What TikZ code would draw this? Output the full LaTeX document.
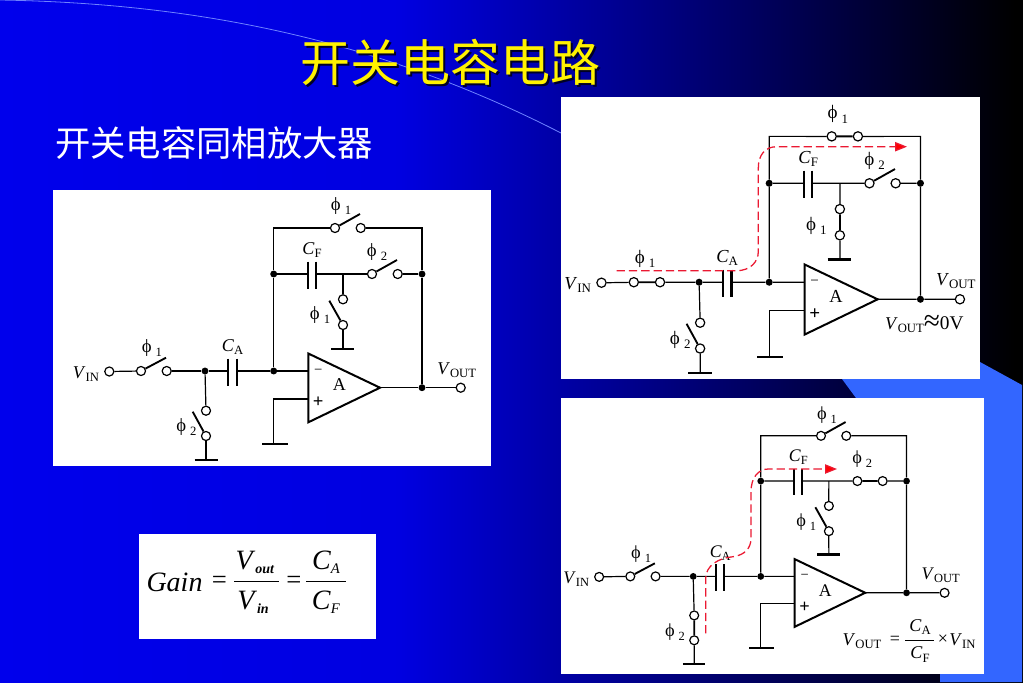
\documentclass[tikz,border=0pt]{standalone}
\usepackage{fontspec}
\usetikzlibrary{arrows.meta}
\setmainfont{Liberation Serif}
\newfontfamily\cjk{Noto Sans CJK SC}
\definecolor{deco}{RGB}{51,102,255}
\definecolor{arcline}{RGB}{110,130,255}
\definecolor{pathred}{RGB}{235,25,50}
\pgfdeclarehorizontalshading{slidebg}{100bp}{
  rgb(0bp)=(0.0,0.0,0.925);
  rgb(25bp)=(0.0,0.0,0.925);
  rgb(44.5bp)=(0,0,0.88);
  rgb(74.6bp)=(0,0,0.0);
  rgb(100bp)=(0,0,0.0)}
\newcommand{\vsub}[2]{{\fontsize{13.5}{14}\selectfont\textit{#1}\raisebox{-2.4pt}{\fontsize{9.5}{10}\selectfont #2}}}
\newcommand{\philab}[1]{{\fontsize{14}{14}\selectfont\symbol{"03D5}\hspace{3pt}\raisebox{-3pt}{\fontsize{9.5}{10}\selectfont #1}}}
\tikzset{
  wire/.style={line width=0.9pt},
  arm/.style={line width=1.4pt},
  plate/.style={line width=1.6pt},
  term/.style={circle,draw,fill=white,line width=0.9pt,inner sep=0pt,minimum size=6.8pt},
  dot/.style={circle,fill=black,inner sep=0pt,minimum size=5.2pt},
  txt/.style={inner sep=0pt,font=\fontsize{13.5}{14}\selectfont},
  panel/.style={fill=white},
  flow/.style={draw=pathred,line width=0.95pt,dash pattern=on 6.2pt off 3pt,
     -{Triangle[length=9pt,width=7pt,fill=red]}}
}
% #1 prefix, #2 origin, #3 scale, #4 phi1 closed, #5 phi2 closed
\newcommand{\swcircuit}[5]{%
\begin{scope}[shift={#2},scale=#3,every node/.append style={transform shape}]
  % nodes
  \node[term] (#1vin) at (109.3,371.5) {};
  \node[term] (#1sal) at (141,371) {};
  \node[term] (#1sar) at (166.7,371) {};
  \coordinate (#1saf) at (166,357.7);
  \node[dot] (#1ja) at (205,371) {};
  \coordinate (#1caL) at (228.3,371);
  \coordinate (#1caR) at (236.7,371);
  \coordinate (#1caLt) at (228.3,358.5);
  \coordinate (#1caLb) at (228.3,385.5);
  \coordinate (#1caRt) at (236.7,358.5);
  \coordinate (#1caRb) at (236.7,385.5);
  \node[dot] (#1jb) at (273.7,371) {};
  \node[dot] (#1jc) at (273.7,274) {};
  \coordinate (#1tl) at (273.7,228);
  \node[term] (#1stl) at (335,228) {};
  \node[term] (#1str) at (360.7,228) {};
  \coordinate (#1stf) at (360,214);
  \coordinate (#1tr) at (422,228);
  \coordinate (#1cfL) at (307.7,274);
  \coordinate (#1cfR) at (316,274);
  \coordinate (#1cfLt) at (307.7,261.5);
  \coordinate (#1cfLb) at (307.7,288.5);
  \coordinate (#1cfRt) at (316,261.5);
  \coordinate (#1cfRb) at (316,288.5);
  \coordinate (#1br) at (343,274);
  \node[term] (#1sbt) at (343,299.3) {};
  \node[term] (#1sbb) at (343,325) {};
  \coordinate (#1sbf) at (329.3,300.7);
  \coordinate (#1gb) at (343,348.7);
  \coordinate (#1gbl) at (331,348.7);
  \coordinate (#1gbr) at (354,348.7);
  \node[term] (#1scl) at (372,274) {};
  \node[term] (#1scr) at (397.7,274) {};
  \coordinate (#1scf) at (397,260);
  \node[dot] (#1jd) at (422,274) {};
  \node[dot] (#1je) at (422,387.7) {};
  \node[term] (#1vout) at (460.7,387.7) {};
  \coordinate (#1a) at (308.3,353.5);
  \coordinate (#1b) at (308.3,422.3);
  \coordinate (#1tip) at (380,387.7);
  \coordinate (#1im) at (308.3,371);
  \coordinate (#1ip) at (308.3,399);
  \coordinate (#1pc) at (273.7,399);
  \coordinate (#1gp) at (273.7,444.3);
  \coordinate (#1gpl) at (262,444.3);
  \coordinate (#1gpr) at (287.5,444.3);
  \node[term] (#1sdt) at (206,410.7) {};
  \node[term] (#1sdb) at (206,436) {};
  \coordinate (#1sdf) at (192.7,411.7);
  \coordinate (#1gd) at (206,460);
  \coordinate (#1gdl) at (194.5,460);
  \coordinate (#1gdr) at (217.5,460);
  % wires
  \draw[wire] (#1vin) -- (#1sal);
  \draw[wire] (#1sar) -- (#1ja) -- (#1caL);
  \draw[wire] (#1caR) -- (#1jb) -- (#1im);
  \draw[wire] (#1jb) -- (#1jc) -- (#1tl) -- (#1stl);
  \draw[wire] (#1str) -- (#1tr) -- (#1jd) -- (#1je);
  \draw[wire] (#1jc) -- (#1cfL);
  \draw[wire] (#1cfR) -- (#1br) -- (#1scl);
  \draw[wire] (#1br) -- (#1sbt);
  \draw[wire] (#1sbb) -- (#1gb);
  \draw[wire] (#1scr) -- (#1jd);
  \draw[wire] (#1tip) -- (#1je) -- (#1vout);
  \draw[wire] (#1ip) -- (#1pc) -- (#1gp);
  \draw[wire] (#1ja) -- (#1sdt);
  \draw[wire] (#1sdb) -- (#1gd);
  % plates and grounds
  \draw[plate] (#1caLt) -- (#1caLb);
  \draw[plate] (#1caRt) -- (#1caRb);
  \draw[plate] (#1cfLt) -- (#1cfLb);
  \draw[plate] (#1cfRt) -- (#1cfRb);
  \draw[plate] (#1gbl) -- (#1gbr);
  \draw[plate] (#1gpl) -- (#1gpr);
  \draw[plate] (#1gdl) -- (#1gdr);
  % op amp
  \draw[line width=1.5pt,line join=miter] (#1a) -- (#1tip) -- (#1b) -- cycle;
  % switches
  \ifnum#4=1
    \draw[arm] (#1sal) -- (#1sar);
    \draw[arm] (#1stl) -- (#1str);
    \draw[arm] (#1sbb) -- (#1sbt);
  \else
    \draw[arm] (#1sal) -- (#1saf);
    \draw[arm] (#1stl) -- (#1stf);
    \draw[arm] (#1sbb) -- (#1sbf);
  \fi
  \ifnum#5=1
    \draw[arm] (#1scl) -- (#1scr);
    \draw[arm] (#1sdb) -- (#1sdt);
  \else
    \draw[arm] (#1scl) -- (#1scf);
    \draw[arm] (#1sdb) -- (#1sdf);
  \fi
  % labels
  \node[txt] (#1lvin) at (86,374) {\vsub{V}{IN}};
  \node[txt] (#1lvout) at (456.7,370) {\vsub{V}{OUT}};
  \node[txt] (#1lca) at (232.5,347) {\vsub{C}{A}};
  \node[txt] (#1lcf) at (312,250) {\vsub{C}{F}};
  \node[txt] (#1la) at (339.3,385) {A};
  \node[txt] (#1lp) at (318.3,402.5) {\fontsize{14}{14}\selectfont\textbf{+}};
  \node[txt] (#1lm) at (318.3,371.5) {\fontsize{11}{11}\selectfont\textminus};
  \node[txt] (#1p1) at (152,348) {\philab{1}};
  \node[txt] (#1p2) at (341,206.5) {\philab{1}};
  \node[txt] (#1p3) at (377,252) {\philab{2}};
  \node[txt] (#1p4) at (320,315.5) {\philab{1}};
  \node[txt] (#1p5) at (186.5,427.5) {\philab{2}};
\end{scope}}
\begin{document}
\begin{tikzpicture}[x=0.75pt,y=-0.75pt]
\useasboundingbox (0,0) rectangle (1023,682);
\shade[shading=slidebg] (0,0) rectangle (1023,682);
\draw[arcline,line width=0.6pt] (0,0) .. controls (170,3) and (360,30) .. (561,133);
\fill[deco] (842,379) -- (980,362) -- (1022,385) -- (1022,682) -- (940,682) -- (940,500) -- (856,398) -- cycle;
\node[inner sep=0pt] (titleshadow) at (452.5,64.5) {\textcolor{black!85!blue}{\fontsize{37.5}{40}\selectfont\cjk 开关电容电路}};
\node[inner sep=0pt] (title) at (450.5,62.5) {\textcolor{yellow}{\fontsize{37.5}{40}\selectfont\cjk 开关电容电路}};
\node[inner sep=0pt] (subtitle) at (214,143) {\textcolor{white}{\fontsize{26.5}{30}\selectfont\cjk 开关电容同相放大器}};
% panels
\fill[panel] (53,190) rectangle (490.5,466);
\fill[panel] (561,97) rectangle (980,379);
\fill[panel] (561,398) rectangle (984,674);
\fill[panel] (139,534) rectangle (376,639);
% circuits
\swcircuit{a}{(0,0)}{1}{0}{0}
\swcircuit{b}{(490,-96.2)}{1.02}{1}{0}
\swcircuit{c}{(491.7,211.7)}{0.983}{0}{1}
% extra texts
\node[txt] (bnote) at (924.3,324) {\vsub{V}{OUT}\raisebox{-1pt}{\fontsize{22}{22}\selectfont≈}{\fontsize{14.5}{14}\selectfont 0V}};
\node[txt] (cv) at (862,641) {\vsub{V}{OUT}};
\node[txt] (ceq) at (895,640) {=};
\node[txt] (cca) at (920,627) {\vsub{C}{A}};
\coordinate (cfl) at (905,640);
\coordinate (cfr) at (934,640);
\draw[line width=0.7pt] (cfl) -- (cfr);
\node[txt] (ccf) at (920,654.5) {\vsub{C}{F}};
\node[txt] (cx) at (943,640) {×};
\node[txt] (cvin) at (962.5,641) {\vsub{V}{IN}};
% gain
\node[inner sep=0pt,font=\fontsize{21}{22}\selectfont\itshape] (gain) at (174.5,582) {Gain};
\node[inner sep=0pt,font=\fontsize{20}{22}\selectfont] (geq1) at (219.5,582) {=};
\node[inner sep=0pt] (gvo) at (255,562) {\fontsize{21}{22}\selectfont\textit{V}\raisebox{-3pt}{\fontsize{10.5}{12}\selectfont\textit{\textbf{out}}}};
\coordinate (g1l) at (234,581.7);
\coordinate (g1r) at (279,581.7);
\draw[line width=0.9pt] (g1l) -- (g1r);
\node[inner sep=0pt] (gvi) at (253,602) {\fontsize{21}{22}\selectfont\textit{V}\raisebox{-3pt}{\fontsize{10.5}{12}\selectfont\textit{\textbf{in}}}};
\node[inner sep=0pt,font=\fontsize{20}{22}\selectfont] (geq2) at (294,582) {=};
\node[inner sep=0pt] (gca) at (326,562) {\fontsize{21}{22}\selectfont\textit{C}\raisebox{-3pt}{\fontsize{11}{12}\selectfont\textit{A}}};
\coordinate (g2l) at (306,581.7);
\coordinate (g2r) at (346,581.7);
\draw[line width=0.9pt] (g2l) -- (g2r);
\node[inner sep=0pt] (gcf) at (326,602) {\fontsize{21}{22}\selectfont\textit{C}\raisebox{-3pt}{\fontsize{11}{12}\selectfont\textit{F}}};
% current paths
\coordinate (bs) at (616.7,270.7);
\coordinate (bc1) at (736.7,270.7);
\coordinate (bc2) at (758.3,251.7);
\coordinate (bc3) at (758.3,168.3);
\coordinate (bc4) at (776.7,146.7);
\coordinate (be) at (907,146.7);
\draw[flow] (bs) -- (bc1) .. controls (750,270.7) and (758.3,262) .. (bc2) -- (bc3) .. controls (758.3,155) and (765,146.7) .. (bc4) -- (be);
\coordinate (cs) at (705.7,633.3);
\coordinate (cc1) at (705.7,578.3);
\coordinate (cc2) at (733,556.7);
\coordinate (cc3) at (751,538.3);
\coordinate (cc4) at (751,491.7);
\coordinate (cc5) at (768.3,469);
\coordinate (ce) at (837,469);
\draw[flow] (cs) -- (cc1) .. controls (705.7,566) and (718,558) .. (cc2) .. controls (745,555) and (751,548) .. (cc3) -- (cc4) .. controls (751,478) and (758,469) .. (cc5) -- (ce);
\end{tikzpicture}
\end{document}
